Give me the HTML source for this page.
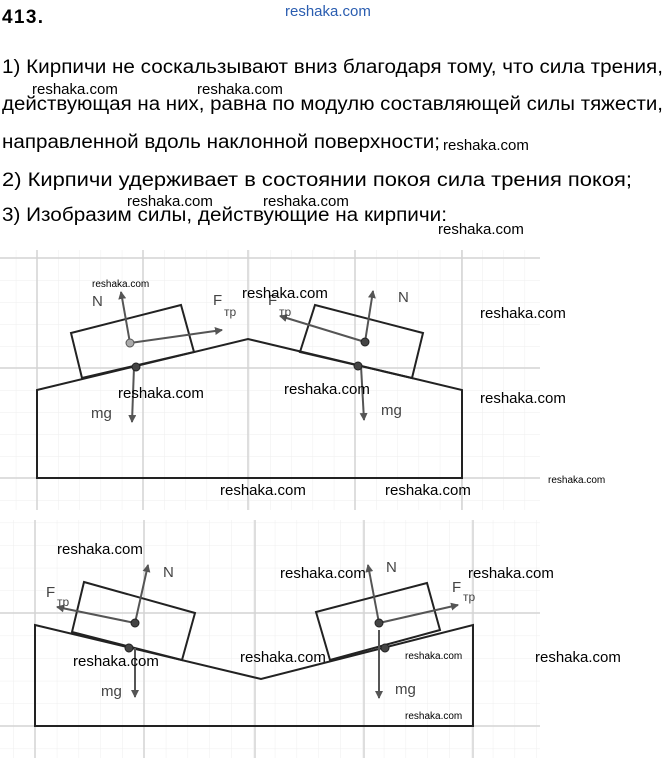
<!DOCTYPE html>
<html><head><meta charset="utf-8"><style>
html,body{margin:0;padding:0;background:#fff}
svg{display:block}
.t{font-family:"Liberation Sans",sans-serif;font-size:19px;fill:#000}
.w{font-family:"Liberation Sans",sans-serif;font-size:15px;fill:#000}
.ws{font-family:"Liberation Sans",sans-serif;font-size:10px;fill:#000}
.l{font-family:"Liberation Sans",sans-serif;font-size:15px;fill:#444}
.s{font-family:"Liberation Sans",sans-serif;font-size:12px;fill:#444}
</style></head><body>
<svg width="665" height="758" viewBox="0 0 665 758" xmlns="http://www.w3.org/2000/svg">
<defs>
<pattern id="g1" x="37" y="258" width="21.2" height="22" patternUnits="userSpaceOnUse"><path d="M0 0V22M0 0H21.2" stroke="#eee" stroke-width="1" fill="none"/></pattern>
<pattern id="g2" x="35" y="613" width="21.8" height="22.6" patternUnits="userSpaceOnUse"><path d="M0 0V22.6M0 0H21.8" stroke="#eee" stroke-width="1" fill="none"/></pattern>
<marker id="a" markerWidth="8" markerHeight="8" refX="7" refY="4" orient="auto" markerUnits="userSpaceOnUse" viewBox="0 0 8 8"><path d="M0 0L8 4L0 8z" fill="#555"/></marker>
</defs>
<text x="2" y="23" class="t" font-size="20" font-weight="bold" textLength="41">413.</text>
<text x="285" y="16" class="w" style="fill:#2a5db0">reshaka.com</text>
<text x="2" y="73" class="t" textLength="661" lengthAdjust="spacingAndGlyphs">1) Кирпичи не соскальзывают вниз благодаря тому, что сила трения,</text>
<text x="32" y="94" class="w">reshaka.com</text><text x="197" y="94" class="w">reshaka.com</text>
<text x="2" y="110" class="t" textLength="661" lengthAdjust="spacingAndGlyphs">действующая на них, равна по модулю составляющей силы тяжести,</text>
<text x="2" y="148" class="t" textLength="438" lengthAdjust="spacingAndGlyphs">направленной вдоль наклонной поверхности;</text>
<text x="443" y="150" class="w">reshaka.com</text>
<text x="2" y="186" class="t" textLength="630" lengthAdjust="spacingAndGlyphs">2) Кирпичи удерживает в состоянии покоя сила трения покоя;</text>
<text x="127" y="206" class="w">reshaka.com</text><text x="263" y="206" class="w">reshaka.com</text>
<text x="2" y="221" class="t" textLength="445" lengthAdjust="spacingAndGlyphs">3) Изобразим силы, действующие на кирпичи:</text>
<text x="438" y="234" class="w">reshaka.com</text>

<rect x="0" y="250" width="540" height="260" fill="url(#g1)"/>
<g stroke="#d4d4d4" stroke-width="1.5">
<path d="M37 250V510M143 250V510M248 250V510M355 250V510M462 250V510M0 258H540M0 368H540M0 478H540"/>
</g>
<g stroke="#222" stroke-width="2" fill="none">
<path d="M37 390L248 339L462 390V478H37Z"/>
<path d="M71 333L181 305L194 352L82 378Z"/>
<path d="M315 305L423 333L412 378L300 352Z"/>
</g>
<g stroke="#555" stroke-width="2" marker-end="url(#a)">
<line x1="130" y1="343" x2="121" y2="292"/>
<line x1="130" y1="343" x2="222" y2="330"/>
<line x1="134" y1="367" x2="132" y2="422"/>
<line x1="365" y1="342" x2="373" y2="291"/>
<line x1="365" y1="342" x2="280" y2="316"/>
<line x1="361" y1="366" x2="364" y2="420"/>
</g>
<circle cx="130" cy="343" r="4" fill="#aaa" stroke="#555"/>
<circle cx="136" cy="367" r="4" fill="#444" stroke="#222"/>
<circle cx="365" cy="342" r="4" fill="#444" stroke="#222"/>
<circle cx="358" cy="366" r="4" fill="#444" stroke="#222"/>
<text x="92" y="306" class="l">N</text><text x="398" y="302" class="l">N</text>
<text x="213" y="305" class="l">F</text><text x="224" y="316" class="s">тр</text>
<text x="268" y="305" class="l">F</text><text x="279" y="316" class="s">тр</text>
<text x="91" y="418" class="l">mg</text><text x="381" y="415" class="l">mg</text>
<text x="92" y="287" class="ws">reshaka.com</text>
<text x="242" y="298" class="w">reshaka.com</text>
<text x="118" y="398" class="w">reshaka.com</text>
<text x="284" y="394" class="w">reshaka.com</text>
<text x="480" y="318" class="w">reshaka.com</text>
<text x="480" y="403" class="w">reshaka.com</text>
<text x="220" y="495" class="w">reshaka.com</text>
<text x="385" y="495" class="w">reshaka.com</text>
<text x="548" y="483" class="ws">reshaka.com</text>

<rect x="0" y="520" width="540" height="238" fill="url(#g2)"/>
<g stroke="#d4d4d4" stroke-width="1.5">
<path d="M35 520V758M144 520V758M255 520V758M364 520V758M473 520V758M0 613H540M0 726H540"/>
</g>
<g stroke="#222" stroke-width="2" fill="none">
<path d="M35 625L261 679L473 625V726H35Z"/>
<path d="M84 582L195 613L182 660L72 632Z"/>
<path d="M316 612L427 583L440 630L330 660Z"/>
</g>
<g stroke="#555" stroke-width="2" marker-end="url(#a)">
<line x1="135" y1="623" x2="148" y2="565"/>
<line x1="135" y1="623" x2="57" y2="607"/>
<line x1="135" y1="648" x2="135" y2="697"/>
<line x1="379" y1="623" x2="368" y2="565"/>
<line x1="379" y1="623" x2="458" y2="605"/>
<line x1="379" y1="630" x2="379" y2="698"/>
</g>
<circle cx="135" cy="623" r="4" fill="#444" stroke="#222"/>
<circle cx="129" cy="648" r="4" fill="#444" stroke="#222"/>
<circle cx="379" cy="623" r="4" fill="#444" stroke="#222"/>
<circle cx="385" cy="648" r="4" fill="#444" stroke="#222"/>
<text x="163" y="577" class="l">N</text><text x="386" y="572" class="l">N</text>
<text x="46" y="597" class="l">F</text><text x="57" y="606" class="s">тр</text>
<text x="452" y="592" class="l">F</text><text x="463" y="601" class="s">тр</text>
<text x="101" y="696" class="l">mg</text><text x="395" y="694" class="l">mg</text>
<text x="57" y="554" class="w">reshaka.com</text>
<text x="280" y="578" class="w">reshaka.com</text>
<text x="468" y="578" class="w">reshaka.com</text>
<text x="535" y="662" class="w">reshaka.com</text>
<text x="240" y="662" class="w">reshaka.com</text>
<text x="73" y="666" class="w">reshaka.com</text>
<text x="405" y="659" class="ws">reshaka.com</text>
<text x="405" y="719" class="ws">reshaka.com</text>
</svg>
</body></html>
